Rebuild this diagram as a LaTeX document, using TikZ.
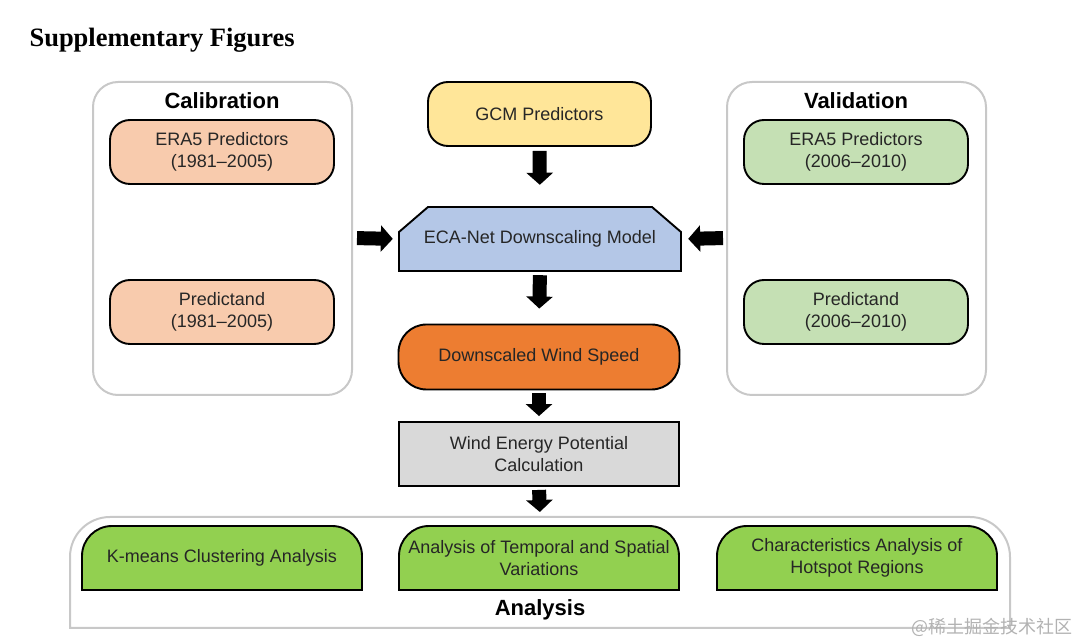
\documentclass[tikz,border=0pt]{standalone}
\usepackage{fontspec}
\setmainfont{Liberation Sans}
\newfontfamily\titlefont{Liberation Serif}
\newfontfamily\cjk{Noto Sans CJK SC}
\usetikzlibrary{arrows.meta}

\definecolor{calfill}{HTML}{F8CBAD}
\definecolor{valfill}{HTML}{C5E0B4}
\definecolor{gcmfill}{HTML}{FFE699}
\definecolor{ecafill}{HTML}{B4C7E7}
\definecolor{dwsfill}{HTML}{ED7D31}
\definecolor{windfill}{HTML}{D9D9D9}
\definecolor{anafill}{HTML}{92D050}
\definecolor{panelgray}{HTML}{C8C8C8}

\tikzset{
  box/.style={draw=black, line width=1.9pt, rounded corners=20pt, minimum width=224pt,
    minimum height=64pt, align=center, text=black!85, font=\fontsize{18}{22}\selectfont},
  panel/.style={draw=panelgray, line width=2pt, rounded corners=25pt},
  paneltitle/.style={font=\fontsize{22}{26}\selectfont\bfseries},
  blockarrow/.style={line width=14pt, -{Triangle[width=26pt,length=12pt]}},
  tabtext/.style={align=center, text=black!85, font=\fontsize{18}{22}\selectfont}
}

\begin{document}
\begin{tikzpicture}[x=1pt,y=1pt]
    %%%%% START %%%%%
    \useasboundingbox (0,0) rectangle (1080,643);

    \node[anchor=west, font=\fontsize{26.5}{30}\selectfont\titlefont\bfseries] (title) at (26,603) {Supplementary Figures};

    % side panels
    \draw[panel] (93,248) rectangle (352,561);
    \draw[panel] (727,248) rectangle (986,561);
    \coordinate (calright) at (352,405);
    \coordinate (valleft) at (727,405);
    \node[paneltitle] (caltitle) at (222,542) {Calibration};
    \node[paneltitle] (valtitle) at (856,542) {Validation};

    \node[box, fill=calfill] (calera) at (222,491) {ERA5 Predictors\\(1981--2005)};
    \node[box, fill=calfill] (calpred) at (222,331) {Predictand\\(1981--2005)};
    \node[box, fill=valfill] (valera) at (856,491) {ERA5 Predictors\\(2006--2010)};
    \node[box, fill=valfill] (valpred) at (856,331) {Predictand\\(2006--2010)};

    % main column
    \node[box, fill=gcmfill, minimum width=223pt] (gcm) at (539.5,529) {GCM Predictors};

    \draw[line width=1.9pt, fill=ecafill] (399,372) -- (399,411) -- (428,436) -- (652,436)
        -- (681,411) -- (681,372) -- cycle;
    \node[tabtext, minimum width=282pt, minimum height=64pt] (eca) at (540,404) {ECA-Net Downscaling Model};

    \node[box, fill=dwsfill, minimum width=281pt, minimum height=65pt, rounded corners=28pt] (dws) at (539,286) {Downscaled Wind Speed};
    \node[box, fill=windfill, minimum width=280pt, rounded corners=0pt] (wind) at (539,189) {Wind Energy Potential\\Calculation};

    % analysis panel
    \draw[panel, rounded corners=0pt] (70,15) -- (70,86) arc (180:90:40) -- (970,126) arc (90:0:40) -- (1010,15) -- cycle;
    \coordinate (anatop) at (540,126);
    \node[paneltitle] (anatitle) at (540,33) {Analysis};

    \foreach \x/\name/\txt in {82/kmeans/{K-means Clustering Analysis},
                              399/tempo/{Analysis of Temporal and Spatial\\Variations},
                              717/hotspot/{Characteristics Analysis of\\Hotspot Regions}}{
      \draw[line width=1.9pt, fill=anafill] (\x,53) -- (\x,87) arc (180:90:30) -- ({\x+250},117)
          arc (90:0:30) -- ({\x+280},53) -- cycle;
      \node[tabtext] (\name) at ({\x+140},85) {\txt};
    }

    % arrows
    \draw[blockarrow, shorten <=4pt, shorten >=22pt] (gcm.south) -- (eca.north);
    \draw[blockarrow, shorten <=4pt, shorten >=15pt] (eca.south) -- (dws.north);
    \draw[blockarrow, shorten <=3pt, shorten >=5pt] (dws.south) -- (wind.north);
    \draw[blockarrow, shorten <=3pt, shorten >=5pt] (wind.south) -- (anatop);
    \draw[blockarrow, shorten <=5pt, shorten >=6pt] (calright) -- (eca.west);
    \draw[blockarrow, shorten <=4pt, shorten >=7pt] (valleft) -- (eca.east);

    \node[anchor=east, text=gray!60, font=\fontsize{18}{22}\selectfont\cjk] (mark) at (1076,16) {@稀土掘金技术社区};
    %%%%% END %%%%%
\end{tikzpicture}
\end{document}
